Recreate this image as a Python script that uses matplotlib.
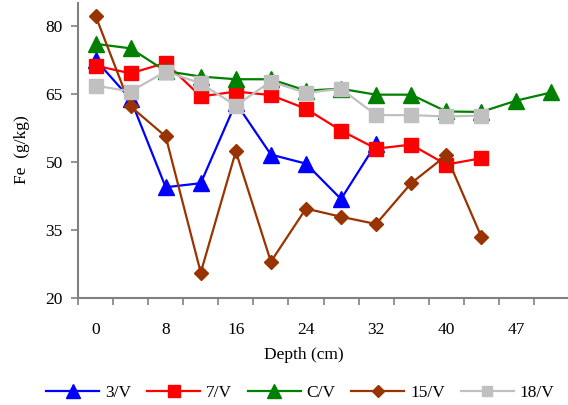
import matplotlib
matplotlib.use("Agg")
import matplotlib.pyplot as plt
import numpy as np

plt.rcParams['font.family'] = ['Liberation Serif', 'DejaVu Serif']

n_categories = 14
tick_labels = ["0", "8", "16", "24", "32", "40", "47"]
y_ticks = [20, 35, 50, 65, 80]

s_3V = [72.5, 63.8, 44.4, 45.3, 63.0, 51.6, 49.6, 41.8, 54.0]
s_7V = [71.2, 69.5, 71.8, 64.4, 65.5, 64.7, 61.7, 56.9, 52.9, 53.8, 49.4, 50.8]
s_CV = [76.0, 75.0, 70.0, 68.8, 68.2, 68.2, 65.7, 66.1, 64.8, 64.8, 61.1, 61.0, 63.5, 65.3]
s_15V = [82.2, 62.2, 55.6, 25.6, 52.3, 28.0, 39.7, 37.9, 36.3, 45.3, 51.4, 33.5]
s_18V = [66.8, 65.5, 69.9, 67.3, 62.4, 67.7, 65.2, 66.1, 60.3, 60.3, 60.0, 60.2]

fig = plt.figure(figsize=(5.68, 4.05), dpi=100)
ax = fig.add_axes([78/568, 1-298/405, 491/568, 295/405])

series = [
    ("3/V", s_3V, "#0000FF", "^", 12, 9.5),
    ("7/V", s_7V, "#FF0000", "s", 10.5, 8),
    ("C/V", s_CV, "#008000", "^", 12, 9.5),
    ("15/V", s_15V, "#993300", "D", 7, 6.5),
    ("18/V", s_18V, "#C0C0C0", "s", 10.5, 7.5),
]
for name, vals, col, mk, ms, lms in series:
    x = np.arange(len(vals))
    ax.plot(x, vals, color=col, marker=mk, markersize=ms, linewidth=1.6,
            markeredgecolor=col, markerfacecolor=col, label=name)

ax.set_xlim(-0.5, n_categories - 0.5)
ax.set_ylim(20, 85)
ax.set_yticks(y_ticks)
ax.set_yticklabels([str(v) for v in y_ticks], fontsize=12.5)
ax.set_xticks(np.arange(-0.5, n_categories, 1.0))
ax.set_xticklabels([])
ax.set_xticks(np.arange(0, 2*len(tick_labels), 2), minor=True)
ax.set_xticklabels(tick_labels, minor=True, fontsize=12.5)
ax.tick_params(axis='x', which='minor', length=0, pad=17)
ax.tick_params(axis='x', which='major', length=5, color='#808080', width=1.2)
ax.tick_params(axis='y', length=5, color='#808080', width=1.2, pad=6)

for sp in ['top', 'right']:
    ax.spines[sp].set_visible(False)
for sp in ['left', 'bottom']:
    ax.spines[sp].set_color('#808080')
    ax.spines[sp].set_linewidth(1.5)

fig.text(304/568, 1-355/405, "Depth (cm)", ha='center', va='center', fontsize=12.5)
fig.text(22/568, 1-150/405, "Fe  (g/kg)", ha='center', va='center', rotation=90, fontsize=12.5)

leg_handles = []
for name, vals, col, mk, ms, lms in series:
    lh, = ax.plot([], [], color=col, marker=mk, markersize=lms, linewidth=1.6,
                  markeredgecolor=col, markerfacecolor=col, label=name)
    leg_handles.append(lh)
fig.legend(handles=leg_handles, loc='center', bbox_to_anchor=(0.529, 1-393/405),
           ncol=5, frameon=False, fontsize=12.5, handlelength=3.05,
           columnspacing=0.9, handletextpad=0.35)

fig.savefig("out.png", dpi=100)
